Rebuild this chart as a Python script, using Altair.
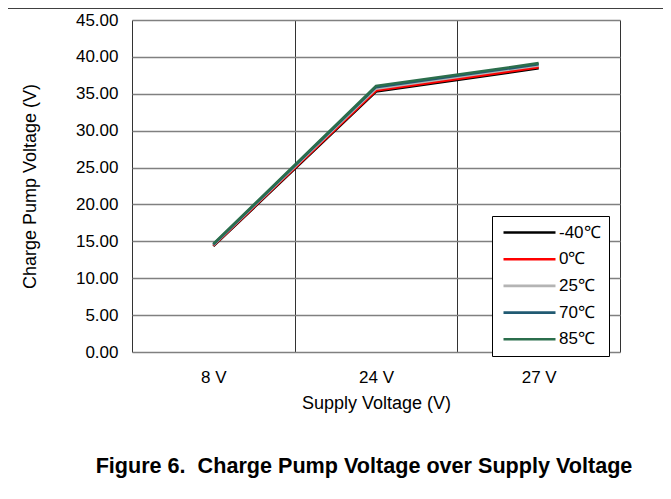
import altair as alt
import pandas as pd

supply = ["8 V", "24 V", "27 V"]
temps = ["-40℃", "0℃", "25℃", "70℃", "85℃"]
colors = ["#000000", "#ff0000", "#b4b4b4", "#215a72", "#2b6e4c"]
v_m40 = [14.35, 35.30, 38.45]
v_0 = [14.42, 35.45, 38.60]
v_25 = [14.50, 35.70, 38.85]
v_70 = [14.57, 35.90, 39.00]
v_85 = [14.65, 36.05, 39.15]

series = [v_m40, v_0, v_25, v_70, v_85]
rows = []
for t, vals in zip(temps, series):
    for s, v in zip(supply, vals):
        rows.append({"supply": s, "temp": t, "v": v})
df = pd.DataFrame(rows)

font = "Liberation Sans"

lines = alt.Chart(df).mark_line(strokeWidth=2.6).encode(
    x=alt.X("supply:N", sort=supply,
            scale=alt.Scale(type="band", paddingInner=0, paddingOuter=0),
            axis=alt.Axis(title="Supply Voltage (V)", labelAngle=0, tickBand="extent",
                          grid=True, gridColor="#333333", gridWidth=1, gridOpacity=1,
                          ticks=False, domain=False, labelPadding=17, titlePadding=9,
                          labelFontSize=17, titleFontSize=18, labelColor="#000",
                          titleColor="#000", labelFont=font, titleFont=font,
                          titleFontWeight="normal")),
    y=alt.Y("v:Q", scale=alt.Scale(domain=[0, 45], nice=False),
            axis=alt.Axis(title="Charge Pump Voltage (V)", values=list(range(0, 46, 5)),
                          format=".2f", grid=True, gridColor="#808080", gridWidth=1.5,
                          gridOpacity=1, ticks=False, domain=False, labelPadding=14,
                          titlePadding=36, labelFontSize=17, titleFontSize=18,
                          labelColor="#000", titleColor="#000", labelFont=font,
                          titleFont=font, titleFontWeight="normal")),
    color=alt.Color("temp:N", sort=temps,
                    scale=alt.Scale(domain=temps, range=colors),
                    legend=alt.Legend(title=None, orient="none", legendX=360, legendY=196,
                                      symbolType="M-3.714,0H3.714", symbolSize=196,
                                      symbolStrokeWidth=2.6, symbolOffset=21,
                                      labelOffset=21, labelFontSize=17, labelFont=font,
                                      labelColor="#000", rowPadding=8.7, padding=8,
                                      fillColor="#ffffff", strokeColor="#000000")),
    order=alt.Order("temp_idx:Q"),
).transform_calculate(temp_idx="indexof(%s, datum.temp)" % str(temps))

topline = alt.Chart(pd.DataFrame({"a": [0]})).mark_rule(color="#000", strokeWidth=1.5).encode(
    x=alt.value(-124), x2=alt.value(560), y=alt.value(-12)
)

chart = alt.layer(lines, topline).properties(
    width=488, height=332,
    autosize=alt.AutoSizeParams(type="none"),
    padding={"left": 124, "top": 12, "right": 43, "bottom": 140},
    title=alt.TitleParams("Figure 6.\u00a0 Charge Pump Voltage over Supply Voltage",
                          orient="bottom", anchor="middle", fontSize=21.6, fontWeight="bold",
                          font=font, color="#000", offset=44, dx=-12),
).configure_view(stroke="#000000", strokeWidth=2.5).configure(background="#ffffff")

chart.save("out.html", embed_options={"renderer": "svg", "actions": False})
